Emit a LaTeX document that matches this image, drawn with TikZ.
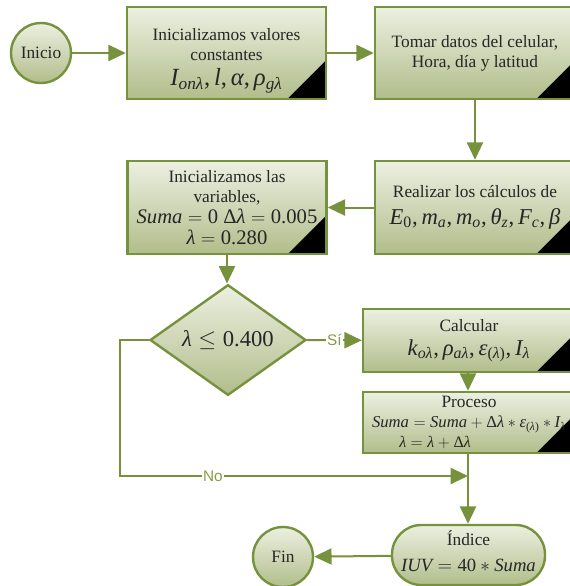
\documentclass[tikz,border=0pt]{standalone}
\usepackage{fontspec}
\setmainfont{Liberation Serif}
\newfontfamily\lsans{Liberation Sans}
\usetikzlibrary{arrows.meta,shapes.geometric}
\makeatletter
\DeclareSymbolFont{tmsit}{TU}{\rmdefault}{m}{it}
\DeclareSymbolFont{tmsup}{TU}{\rmdefault}{m}{n}
\AtBeginDocument{%
\@tempcnta=`a
\loop
  \Umathcode\@tempcnta=7 \symtmsit \@tempcnta
\ifnum\@tempcnta<`z \advance\@tempcnta by 1 \repeat
\@tempcnta=`A
\loop
  \Umathcode\@tempcnta=7 \symtmsit \@tempcnta
\ifnum\@tempcnta<`Z \advance\@tempcnta by 1 \repeat
\@tempcnta=`0
\loop
  \Umathcode\@tempcnta=0 \symtmsup \@tempcnta
\ifnum\@tempcnta<`9 \advance\@tempcnta by 1 \repeat
\Umathcode`.=0 \symtmsup `.
\Umathcode`,=6 \symtmsup `,
\Umathcode`(=4 \symtmsup `(
\Umathcode`)=5 \symtmsup `)
\Umathchardef\lambda=7 \symtmsit "3BB
\Umathchardef\alpha=7 \symtmsit "3B1
\Umathchardef\rho=7 \symtmsit "3C1
\Umathchardef\theta=7 \symtmsit "3B8
\Umathchardef\beta=7 \symtmsit "3B2
\Umathchardef\varepsilon=7 \symtmsit "3B5
\Umathchardef\Delta=0 \symtmsup "394
}
\makeatother
\definecolor{oline}{HTML}{76923C}
\definecolor{ftop}{HTML}{ECF0E1}
\definecolor{fbot}{HTML}{B1BD8B}
\definecolor{lbl}{HTML}{849D45}
\newcommand\txtf{\fontsize{13}{15}\selectfont}
\newcommand\mthf{\fontsize{17}{19}\selectfont}
\newcommand\mbgf{\fontsize{18.5}{20}\selectfont}
\newcommand\mmid{\fontsize{15.5}{18}\selectfont}
\newcommand\msml{\fontsize{14}{16}\selectfont}
\newcommand\mprc{\fontsize{12.5}{15}\selectfont}
\newcommand\mtny{\fontsize{12}{14}\selectfont}
\begin{document}
\begin{tikzpicture}[x=0.75pt,y=-0.75pt,
  shadefill/.style={draw=oline, line width=1.8pt, top color=ftop, bottom color=fbot,
    align=center, inner sep=0pt, text=black!85, font=\txtf},
  flowbox/.style={shadefill, rectangle,
    path picture={\fill[black] (path picture bounding box.south east) -- ++(-29pt,0pt) -- ++(29pt,29pt) -- cycle;}},
  termnode/.style={shadefill, circle, minimum size=45pt},
  decnode/.style={shadefill, diamond, minimum width=117pt, minimum height=70.5pt},
  stadium/.style={shadefill, rectangle, rounded corners=22pt, minimum width=114.75pt, minimum height=45pt},
  conn/.style={draw=oline, line width=1.5pt},
  arr/.style={conn, -{Triangle[length=13pt,width=12pt]}},
  edgelbl/.style={fill=white, inner sep=1pt, text=lbl, font=\lsans\fontsize{11.5}{12}\selectfont}
]
\path[use as bounding box, clip] (0,0) rectangle (570,586);

\node[termnode] (inicio) at (41,53) {Inicio};
\node[flowbox, minimum width=149.25pt, minimum height=69pt] (b1) at (226.5,53)
  {\rule{0pt}{21pt}Inicializamos valores\\constantes\\[4pt]{\mbgf$I_{on\lambda},l,\alpha,\rho_{g\lambda}$}};
\node[flowbox, minimum width=150pt, minimum height=69pt] (b2) at (475,53)
  {Tomar datos del celular,\\Hora, día y latitud};
\node[flowbox, minimum width=150pt, minimum height=69.75pt] (b3) at (475,207.5)
  {Realizar los cálculos de\\[5pt]{\mthf$E_0,m_a,m_o,\theta_z,F_c,\beta$}};
\node[flowbox, minimum width=149.25pt, minimum height=69.75pt] (b4) at (227,207.5)
  {Inicializamos las\\variables,\\[1pt]{\mmid$Suma=0\ \Delta\lambda=0.005$}\\[1pt]{\mmid$\lambda=0.280$}};
\node[decnode] (dec) at (228,340) {\mthf$\lambda\le 0.400$};
\node[flowbox, minimum width=159pt, minimum height=47.25pt] (calc) at (469,340.5)
  {Calcular\\[3pt]{\mthf$k_{o\lambda},\rho_{a\lambda},\varepsilon_{(\lambda)},I_\lambda$}};
\node[flowbox, minimum width=159pt, minimum height=45.75pt] (proc) at (469,422.5)
  {Proceso\\\makebox[140pt]{\mprc$Suma=Suma+\Delta\lambda*\varepsilon_{(\lambda)}*I_\lambda$}\\
   \hspace*{-51pt}{\mtny$\lambda=\lambda+\Delta\lambda$}};
\node[stadium] (ind) at (468.5,555)
  {Índice\\[5pt]{\msml$IUV=40*Suma$}\rule[-6pt]{0pt}{0pt}};
\node[termnode] (fin) at (283,557) {Fin};

\coordinate (merge) at (468,476);
\coordinate (noleft) at (120,340);
\coordinate (nodown) at (120,476);

\draw[arr] (inicio) -- (b1);
\draw[arr] (b1) -- (b2);
\draw[arr] (b2) -- (b3);
\draw[arr] (b3) -- (b4);
\draw[arr] (b4) -- (b4.south |- dec.north);
\draw[arr] (dec) -- node[edgelbl] (si) {Sí} (calc);
\draw[arr] (calc.south -| merge) -- (proc.north -| merge);
\draw[arr] (proc.south -| merge) -- (ind.north -| merge);
\draw[arr] (dec.west) -- (noleft) -- (nodown) -- node[edgelbl, pos=0.267] (no) {No} (merge);
\draw[arr] (ind) -- (fin);
\end{tikzpicture}
\end{document}
